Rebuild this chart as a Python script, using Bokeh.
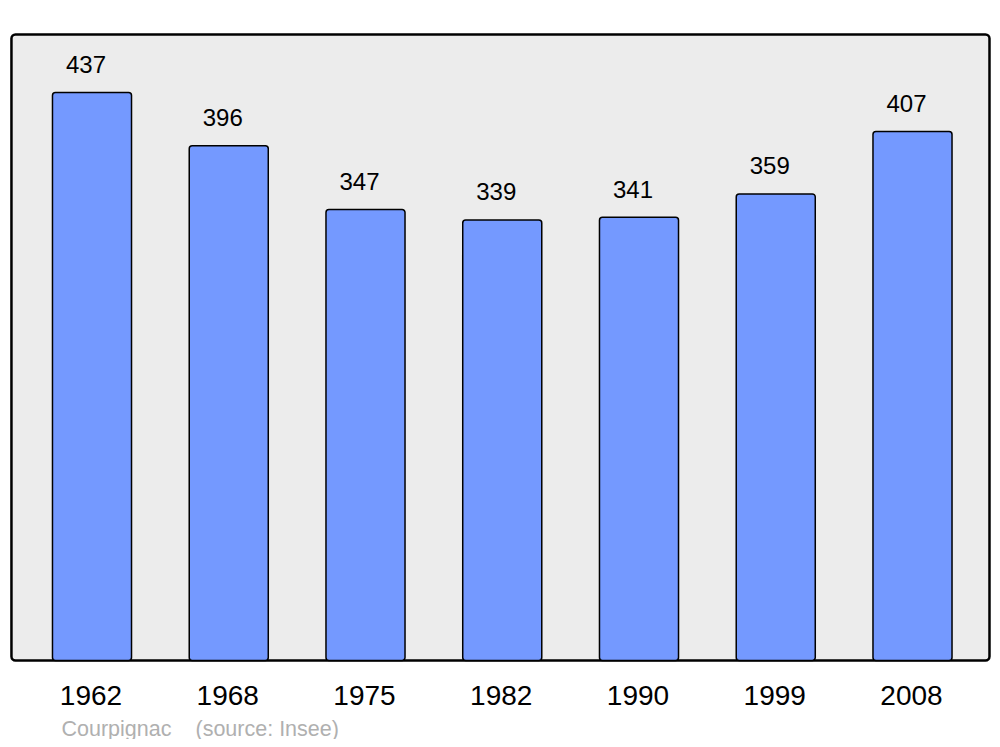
from bokeh.plotting import figure
from bokeh.models import Range1d, Label, ColumnDataSource
from bokeh.core.properties import value
from bokeh.embed import file_html
from bokeh.resources import INLINE

years = ["1962", "1968", "1975", "1982", "1990", "1999", "2008"]
population = [437, 396, 347, 339, 341, 359, 407]
commune = "Courpignac"
source_note = "(source: Insee)"

idx = list(range(len(years)))
src = ColumnDataSource(dict(x=idx, y=population, lab=[str(v) for v in population], yr=years))

W, H = 992, 739
p = figure(width=W, height=H, output_backend="svg", toolbar_location=None,
           x_range=Range1d(-0.6691, 6.585), y_range=Range1d(-60.8, 507.8),
           min_border=0, min_border_left=0, min_border_right=0,
           min_border_top=0, min_border_bottom=0)
p.axis.visible = False
p.grid.visible = False
p.outline_line_color = None
p.background_fill_color = "white"
p.border_fill_color = "white"

# frame
p.quad(left=[-0.589], right=[6.563], bottom=[0], top=[481.6],
       fill_color="#ececec", line_color="black", line_width=2.5, border_radius=4)

# bars
p.vbar(x="x", top="y", bottom=0, width=0.578, source=src,
       fill_color="#7499ff", line_color="black", line_width=1.5, border_radius=3)

# value labels
p.text(x="x", y="y", text="lab", source=src, text_align="center", text_baseline="middle",
       y_offset=-28, x_offset=-6, text_font=value("Liberation Sans"), text_font_size="24px",
       text_color="black")

# year labels
p.text(x="x", y=0, text="yr", source=src, text_align="center", text_baseline="middle",
       y_offset=35, x_offset=-1, text_font=value("Liberation Sans"), text_font_size="28px",
       text_color="black")

for txt, xs in ((commune, 61), (source_note, 195)):
    p.add_layout(Label(x=xs, y=11, x_units="screen", y_units="screen", text=txt,
                       text_font="Liberation Sans", text_font_size="21.5px", text_color="#b0b0b0",
                       text_baseline="middle", text_align="left"))

open("out.html", "w").write(file_html(p, INLINE))
